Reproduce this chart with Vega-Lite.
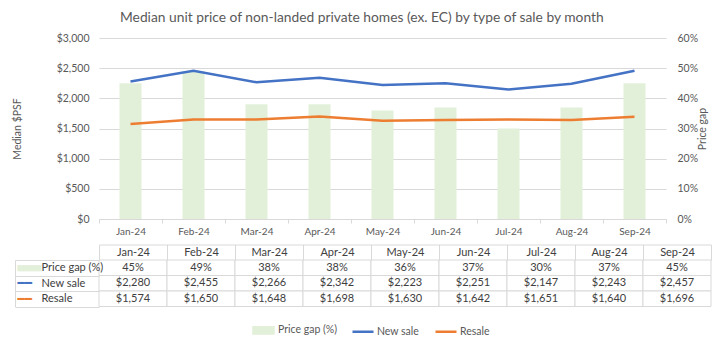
{
  "$schema": "https://vega.github.io/schema/vega-lite/v6.json",
  "background": "white",
  "padding": {"left": 12, "top": 11, "right": 8, "bottom": 4},
  "title": {"text": "Median unit price of non-landed private homes (ex. EC) by type of sale by month", "fontSize": 13.8, "font": "Lato", "fontWeight": "normal", "color": "#595959", "offset": 8, "anchor": "middle"},
  "datasets": {
    "m": [
      {"month": "Jan-24", "gap": 0.45, "new": 2280, "resale": 1574},
      {"month": "Feb-24", "gap": 0.49, "new": 2455, "resale": 1650},
      {"month": "Mar-24", "gap": 0.38, "new": 2266, "resale": 1648},
      {"month": "Apr-24", "gap": 0.38, "new": 2342, "resale": 1698},
      {"month": "May-24", "gap": 0.36, "new": 2223, "resale": 1630},
      {"month": "Jun-24", "gap": 0.37, "new": 2251, "resale": 1642},
      {"month": "Jul-24", "gap": 0.30, "new": 2147, "resale": 1651},
      {"month": "Aug-24", "gap": 0.37, "new": 2243, "resale": 1640},
      {"month": "Sep-24", "gap": 0.45, "new": 2457, "resale": 1696}
    ]
  },
  "spacing": 8,
  "config": {
    "view": {"stroke": null},
    "font": "Lato",
    "axis": {"labelFont": "Lato", "titleFont": "Lato", "titleFontWeight": "normal"},
    "text": {"font": "Lato"},
    "legend": {
      "orient": "none", "legendX": 153, "legendY": 280, "direction": "horizontal", "title": null,
      "labelFontSize": 10.5, "labelColor": "#595959", "labelFont": "Lato", "symbolSize": 441, "columnPadding": 10, "labelOffset": 2
    }
  },
  "vconcat": [
    {
      "width": 567,
      "height": 181,
      "data": {"name": "m"},
      "layer": [
        {
          "mark": {"type": "bar", "width": {"band": 0.35}},
          "encoding": {
            "x": {"field": "month", "type": "ordinal", "sort": null, "scale": {"paddingInner": 0, "paddingOuter": 0},
              "axis": {"title": null, "labelAngle": 0, "labelColor": "#595959", "labelFontSize": 10, "labelPadding": 3, "tickBand": "extent", "tickSize": 4, "tickColor": "#D9D9D9", "domainColor": "#D9D9D9"}},
            "y": {"field": "gap", "type": "quantitative", "scale": {"domain": [0, 0.6]},
              "axis": {"orient": "right", "format": ".0%", "values": [0, 0.1, 0.2, 0.3, 0.4, 0.5, 0.6], "grid": false, "ticks": false, "domain": false, "labelPadding": 11, "labelColor": "#595959", "labelFontSize": 10.5, "title": "Price gap", "titleAngle": 270, "titleBaseline": "top", "titleColor": "#595959", "titleFontSize": 10.5, "titlePadding": 0}},
            "color": {"datum": "gap", "type": "nominal",
              "scale": {"domain": ["gap", "new", "resale"], "range": ["#E2F0D9", "#4472C4", "#ED7D31"]},
              "legend": {
                "title": null,
                "labelExpr": "datum.value == 'gap' ? 'Price gap (%)' : datum.value == 'new' ? 'New sale' : 'Resale'",
                "encode": {"symbols": {"update": {
                  "shape": [{"test": "datum.value === 'gap'", "value": "M-1,-0.3H0.9V0.3H-1Z"}, {"value": "M-1,0H1"}],
                  "fill": [{"test": "datum.value === 'gap'", "value": "#E2F0D9"}, {"value": "transparent"}],
                  "stroke": [{"test": "datum.value === 'new'", "value": "#4472C4"}, {"test": "datum.value === 'resale'", "value": "#ED7D31"}, {"value": "transparent"}],
                  "strokeWidth": {"value": 2.5},
                  "opacity": {"value": 1}
                }}}
              }}
          }
        },
        {
          "transform": [{"fold": ["new", "resale"], "as": ["key", "value"]}],
          "mark": {"type": "line", "strokeWidth": 2.5},
          "encoding": {
            "x": {"field": "month", "type": "ordinal", "sort": null},
            "y": {"field": "value", "type": "quantitative", "scale": {"domain": [0, 3000]},
              "axis": {"orient": "left", "format": "$,.0f", "values": [0, 500, 1000, 1500, 2000, 2500, 3000], "grid": true, "gridColor": "#D9D9D9", "ticks": false, "domain": false, "labelPadding": 10, "labelColor": "#595959", "labelFontSize": 10.5, "title": "Median $PSF", "titleColor": "#595959", "titleFontSize": 10.5, "titlePadding": 34}},
            "color": {"field": "key", "type": "nominal", "legend": {"title": null}}
          }
        }
      ],
      "resolve": {"scale": {"y": "independent"}}
    },
    {
      "width": 612,
      "height": 46.5,
      "data": {"name": "m"},
      "transform": [{"fold": ["gap", "new", "resale"], "as": ["key", "value"]}],
      "layer": [
        {
          "mark": {"type": "rect", "fill": "white", "stroke": "#D9D9D9", "strokeWidth": 1},
          "encoding": {
            "x": {"field": "month", "type": "ordinal", "sort": null, "scale": {"paddingInner": 0, "paddingOuter": 0},
              "axis": {"orient": "top", "title": null, "domain": false, "tickBand": "extent", "tickSize": 15.5, "tickColor": "#D9D9D9", "labelBaseline": "middle", "labelPadding": -7.75, "labelColor": "#404040", "labelFontSize": 11, "labelAngle": 0}},
            "y": {"field": "key", "type": "nominal", "sort": ["gap", "new", "resale"], "scale": {"paddingInner": 0, "paddingOuter": 0},
              "axis": {"orient": "left", "title": null, "domain": false, "tickBand": "extent", "tickSize": 84, "tickColor": "#D9D9D9", "labelAlign": "left", "labelPadding": -26, "labelColor": "#404040", "labelFontSize": 11,
                "labelExpr": "datum.value == 'gap' ? 'Price gap (%)' : datum.value == 'new' ? 'New sale' : datum.value == 'resale' ? 'Resale' : ''"}}
          }
        },
        {
          "mark": {"type": "text", "fontSize": 11, "color": "#404040", "font": "Lato"},
          "encoding": {
            "x": {"field": "month", "type": "ordinal", "sort": null,
              "axis": {"orient": "top", "offset": 15.5, "title": null, "labels": false, "ticks": false, "domain": true, "domainColor": "#D9D9D9"}},
            "y": {"field": "key", "type": "nominal", "sort": ["gap", "new", "resale"],
              "axis": {"orient": "left", "offset": 84, "title": null, "ticks": false, "domain": true, "domainColor": "#D9D9D9", "labelAlign": "left", "labelPadding": -2, "labelFont": "DejaVu Sans",
                "labelExpr": "datum.value == 'gap' ? '██████' : '━━'",
                "labelColor": {"condition": [{"test": "datum.value == 'gap'", "value": "#E2F0D9"}, {"test": "datum.value == 'new'", "value": "#4472C4"}], "value": "#ED7D31"},
                "labelFontSize": {"condition": {"test": "datum.value == 'gap'", "value": 5.2}, "value": 12}}},
            "text": {"condition": {"test": "datum.key == 'gap'", "field": "value", "type": "quantitative", "format": ".0%"}, "field": "value", "type": "quantitative", "format": "$,.0f"}
          }
        }
      ],
      "resolve": {"axis": {"x": "independent", "y": "independent"}}
    }
  ]
}
